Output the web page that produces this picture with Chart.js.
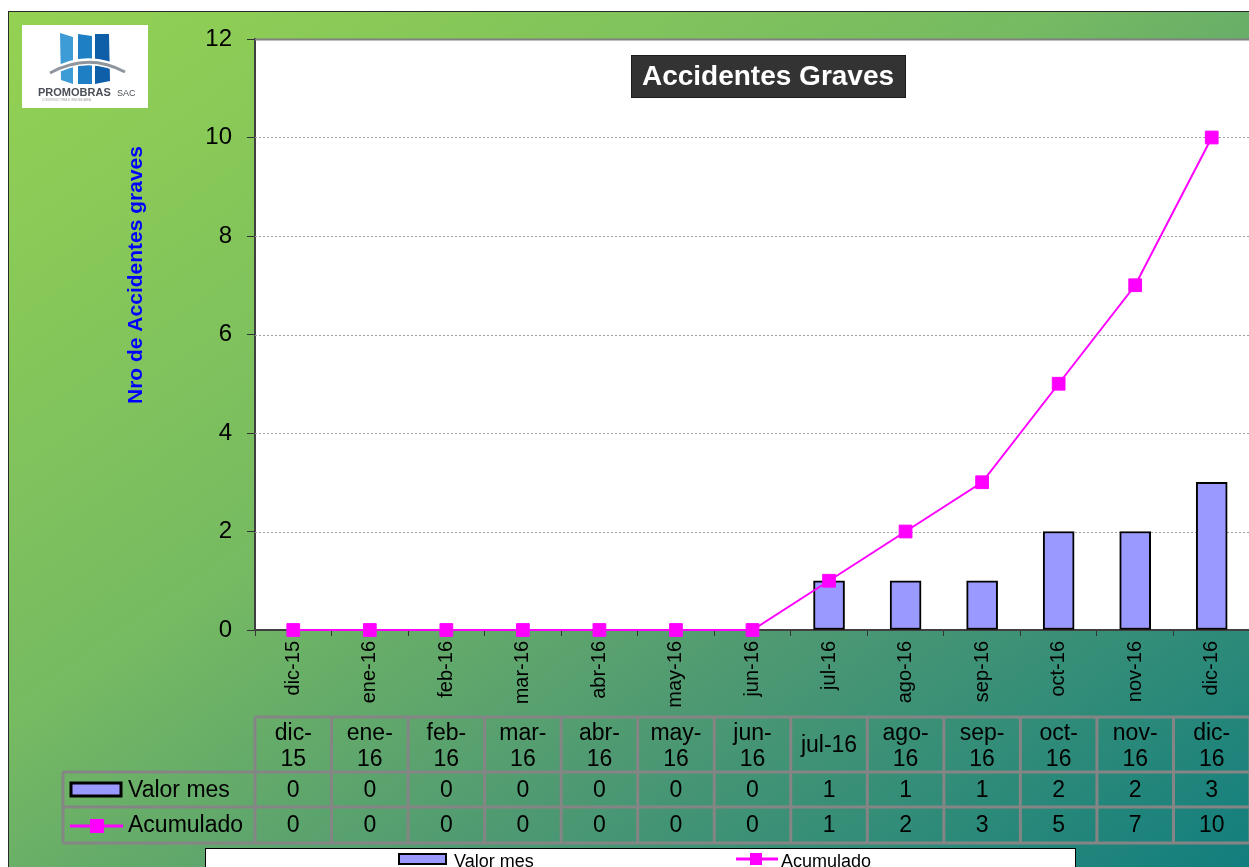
<!DOCTYPE html>
<html lang="es">
<head>
<meta charset="UTF-8">
<title>Accidentes Graves</title>
<script src="https://cdn.jsdelivr.net/npm/chart.js@4.4.1/dist/chart.umd.min.js"></script>
<style>
  html, body { margin: 0; padding: 0; background: #fff; overflow: hidden; }
  canvas { display: block; }
</style>
</head>
<body>
<canvas id="myChart" width="1260" height="867"></canvas>

<script>
// data
var categories = ['dic-15', 'ene-16', 'feb-16', 'mar-16', 'abr-16', 'may-16', 'jun-16',
                  'jul-16', 'ago-16', 'sep-16', 'oct-16', 'nov-16', 'dic-16'];
var valorMes  = [0, 0, 0, 0, 0, 0, 0, 1, 1, 1, 2, 2, 3];
var acumulado = [0, 0, 0, 0, 0, 0, 0, 1, 2, 3, 5, 7, 10];
var yMin = 0, yMax = 12, yStep = 2;

var FONT = '"Liberation Sans", Arial, sans-serif';
var BAR_FILL = '#9999ff';
var LINE_COL = '#ff00ff';

function drawLogo(ctx) {
  ctx.save();
  ctx.fillStyle = '#fff';
  ctx.fillRect(22, 25, 126, 83);
  // three slanted blue blocks
  var blocks = [
    [[60, 33], [73, 37], [73, 84], [61, 80], '#3d9bd6'],
    [[78, 34], [92, 36], [92, 84], [78, 84], '#1f7fc4'],
    [[95, 34], [109, 34], [110, 81], [95, 84], '#0f5ea8']
  ];
  blocks.forEach(function (b) {
    ctx.beginPath();
    ctx.moveTo(b[0][0], b[0][1]);
    for (var i = 1; i < 4; i++) ctx.lineTo(b[i][0], b[i][1]);
    ctx.closePath();
    ctx.fillStyle = b[4];
    ctx.fill();
  });
  // arc over the blocks
  ctx.beginPath();
  ctx.moveTo(48, 74);
  ctx.quadraticCurveTo(88, 50, 127, 73);
  ctx.strokeStyle = '#fff';
  ctx.lineWidth = 7;
  ctx.stroke();
  ctx.beginPath();
  ctx.moveTo(50, 73);
  ctx.quadraticCurveTo(88, 52, 125, 72);
  ctx.strokeStyle = '#8e959c';
  ctx.lineWidth = 3;
  ctx.stroke();
  ctx.fillStyle = '#4a4f57';
  ctx.font = 'bold 11px ' + FONT;
  ctx.textBaseline = 'alphabetic';
  ctx.fillText('PROMOBRAS', 38, 96);
  ctx.font = '9px ' + FONT;
  ctx.fillText('SAC', 117, 96);
  ctx.fillStyle = '#9aa0a6';
  ctx.font = '3px ' + FONT;
  ctx.fillText('CONSTRUCTORA E INMOBILIARIA', 42, 101);
  ctx.restore();
}

var excelPlugin = {
  id: 'excelLook',
  beforeDraw: function (chart) {
    var ctx = chart.ctx, a = chart.chartArea;
    var W = chart.width, H = chart.height;
    ctx.save();
    ctx.fillStyle = '#fff';
    ctx.fillRect(0, 0, W, H);
    // diagonal fill, stretched over the box (isolines run corner to corner)
    ctx.save();
    ctx.translate(8, 11);
    ctx.scale(1249 - 8, 867 - 11);
    var g = ctx.createLinearGradient(0, 0, 1, 1);
    g.addColorStop(0, '#94d252');
    g.addColorStop(0.42, '#76ba62');
    g.addColorStop(0.67, '#509a72');
    g.addColorStop(1, '#127e7e');
    ctx.fillStyle = g;
    ctx.fillRect(0, 0, 1.02, 1.02);
    ctx.restore();
    ctx.strokeStyle = '#2a2a2a';
    ctx.lineWidth = 1;
    ctx.strokeRect(8.5, 11.5, W, H);
    // plot area
    ctx.fillStyle = '#fff';
    ctx.fillRect(a.left, a.top, a.right - a.left, a.bottom - a.top);
    ctx.restore();

    drawLogo(ctx);

    // y axis title
    ctx.save();
    ctx.translate(136, 275);
    ctx.rotate(-Math.PI / 2);
    ctx.fillStyle = '#0000ff';
    ctx.font = 'bold 21px ' + FONT;
    ctx.textAlign = 'center';
    ctx.textBaseline = 'middle';
    ctx.fillText('Nro de Accidentes graves', 0, 0);
    ctx.restore();
  },
  beforeDatasetsDraw: function (chart) {
    var ctx = chart.ctx, a = chart.chartArea, ys = chart.scales.y;
    ctx.save();
    ys.ticks.forEach(function (t) {
      var y = Math.round(ys.getPixelForValue(t.value)) + 0.5;
      if (t.value === yMin) return;
      ctx.beginPath();
      if (t.value === yMax) {
        ctx.setLineDash([]);
        ctx.strokeStyle = '#808080';
        ctx.lineWidth = 2;
      } else {
        ctx.setLineDash([2, 2]);
        ctx.strokeStyle = '#a0a0a0';
        ctx.lineWidth = 1;
      }
      ctx.moveTo(a.left, y);
      ctx.lineTo(a.right, y);
      ctx.stroke();
    });
    ctx.restore();
  },
  afterDraw: function (chart) {
    var ctx = chart.ctx, a = chart.chartArea, xs = chart.scales.x;
    var W = chart.width;
    var n = categories.length;
    var colW = (a.right - a.left) / n;

    // title box
    ctx.save();
    ctx.fillStyle = '#333333';
    ctx.fillRect(631, 55, 274, 42);
    ctx.strokeStyle = '#1c1c1c';
    ctx.lineWidth = 1;
    ctx.strokeRect(631.5, 55.5, 274, 42);
    ctx.fillStyle = '#fff';
    ctx.font = 'bold 28px ' + FONT;
    ctx.textAlign = 'center';
    ctx.textBaseline = 'middle';
    ctx.fillText('Accidentes Graves', 768, 77);
    ctx.restore();

    // data table
    var tTop = 717, r1 = 772, r2 = 807, r3 = 843, keyLeft = 63;
    ctx.save();
    ctx.font = '23px ' + FONT;
    ctx.fillStyle = '#000';
    ctx.textAlign = 'center';
    ctx.textBaseline = 'middle';
    categories.forEach(function (c, i) {
      var x = xs.getPixelForValue(i);
      if (ctx.measureText(c).width > 58) {
        var k = c.indexOf('-') + 1;
        ctx.fillText(c.slice(0, k), x, tTop + 17);
        ctx.fillText(c.slice(k), x, tTop + 43);
      } else {
        ctx.fillText(c, x, (tTop + r1) / 2 + 1);
      }
      ctx.fillText(String(valorMes[i]), x, (r1 + r2) / 2 + 1);
      ctx.fillText(String(acumulado[i]), x, (r2 + r3) / 2 + 1);
    });

    ctx.strokeStyle = '#858585';
    ctx.lineWidth = 3;
    ctx.beginPath();
    ctx.moveTo(a.left, tTop); ctx.lineTo(W, tTop);
    [r1, r2, r3].forEach(function (y) { ctx.moveTo(keyLeft, y); ctx.lineTo(W, y); });
    ctx.moveTo(keyLeft, r1); ctx.lineTo(keyLeft, r3);
    for (var k = 0; k <= n; k++) {
      var x = a.left + k * colW;
      ctx.moveTo(x, tTop); ctx.lineTo(x, r3);
    }
    ctx.stroke();

    // series keys in the table
    ctx.fillStyle = BAR_FILL;
    ctx.fillRect(71, 783, 50, 13);
    ctx.strokeStyle = '#000';
    ctx.lineWidth = 3;
    ctx.strokeRect(71, 783, 50, 13);
    ctx.strokeStyle = LINE_COL;
    ctx.lineWidth = 3;
    ctx.beginPath();
    ctx.moveTo(70, 826); ctx.lineTo(123, 826);
    ctx.stroke();
    ctx.fillStyle = LINE_COL;
    ctx.fillRect(90, 819, 14, 14);
    ctx.fillStyle = '#000';
    ctx.textAlign = 'left';
    ctx.fillText(chart.data.datasets[0].label, 128, (r1 + r2) / 2 + 1);
    ctx.fillText(chart.data.datasets[1].label, 128, (r2 + r3) / 2 + 1);
    ctx.restore();

    // bottom legend
    ctx.save();
    ctx.fillStyle = '#fff';
    ctx.fillRect(205, 848, 870, 30);
    ctx.strokeStyle = '#000';
    ctx.lineWidth = 1;
    ctx.strokeRect(205.5, 848.5, 870, 30);
    ctx.fillStyle = BAR_FILL;
    ctx.fillRect(399, 854, 47, 10);
    ctx.lineWidth = 2;
    ctx.strokeRect(399, 854, 47, 10);
    ctx.strokeStyle = LINE_COL;
    ctx.lineWidth = 3;
    ctx.beginPath();
    ctx.moveTo(736, 859); ctx.lineTo(778, 859);
    ctx.stroke();
    ctx.fillStyle = LINE_COL;
    ctx.fillRect(750, 853, 12, 12);
    ctx.fillStyle = '#000';
    ctx.font = '18px ' + FONT;
    ctx.textBaseline = 'alphabetic';
    ctx.fillText(chart.data.datasets[0].label, 454, 867);
    ctx.fillText(chart.data.datasets[1].label, 781, 867);
    ctx.restore();
  }
};

var ctx = document.getElementById('myChart').getContext('2d');

var graphData = {
  type: 'bar',
  data: {
    labels: categories,
    datasets: [{
      type: 'bar',
      label: 'Valor mes',
      data: valorMes,
      backgroundColor: BAR_FILL,
      borderColor: '#000',
      borderWidth: 2,
      borderSkipped: false,
      barThickness: 31,
      order: 2
    }, {
      type: 'line',
      label: 'Acumulado',
      data: acumulado,
      borderColor: LINE_COL,
      borderWidth: 2,
      tension: 0,
      pointStyle: 'rect',
      pointRadius: 9,
      pointHoverRadius: 9,
      pointBackgroundColor: LINE_COL,
      pointBorderColor: LINE_COL,
      pointBorderWidth: 1,
      clip: false,
      order: 1
    }]
  },
  options: {
    responsive: false,
    devicePixelRatio: 1,
    animation: false,
    layout: { padding: { left: 0, top: 39, right: 8.7, bottom: 0 } },
    plugins: {
      legend: { display: false },
      title: { display: false },
      tooltip: { enabled: false }
    },
    scales: {
      x: {
        offset: true,
        grid: { offset: true, drawOnChartArea: false, drawTicks: true, tickLength: 6, tickColor: '#333', tickWidth: 1 },
        border: { color: '#404040', width: 2 },
        ticks: {
          autoSkip: false, minRotation: 90, maxRotation: 90, padding: 5,
          color: '#000', font: { family: FONT, size: 20 }
        },
        afterFit: function (s) { s.height = 237; }
      },
      y: {
        min: yMin,
        max: yMax,
        grid: { drawOnChartArea: false, drawTicks: true, tickLength: 8, tickColor: '#333' },
        border: { color: '#404040', width: 2 },
        ticks: { stepSize: yStep, padding: 15, color: '#000', font: { family: FONT, size: 24 } },
        afterFit: function (s) { s.width = 255; }
      }
    }
  },
  plugins: [excelPlugin]
};

var myChart = new Chart(ctx, graphData);
</script>
</body>
</html>
